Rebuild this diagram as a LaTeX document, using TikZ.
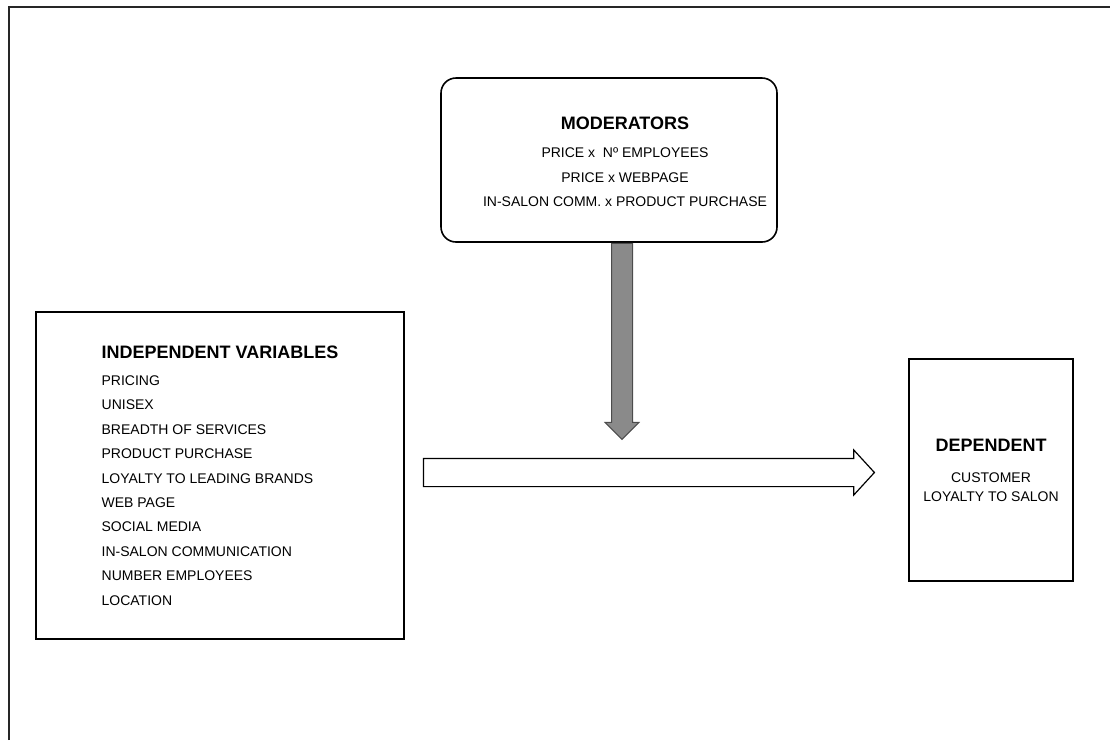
\documentclass[tikz,border=0pt]{standalone}
\usepackage{fontspec}
\setmainfont{Liberation Sans}
\usetikzlibrary{shapes.arrows,positioning}

\begin{document}
\begin{tikzpicture}[x=1pt, y=-1pt,
    varbox/.style={rectangle, draw, line width=1.6pt, inner sep=0pt},
    modbox/.style={rectangle, draw, line width=1.6pt, rounded corners=15pt, minimum width=336pt, minimum height=164pt},
    blockarrow/.style={single arrow, draw, minimum width=0pt, anchor=tail},
]
    \useasboundingbox (0,0) rectangle (1110,740);
    \draw[line width=1.5pt, black!85] (9,740) -- (9,7) -- (1110,7);

    \node[modbox] (mod) at (609,160) {};
    \node[align=center, font=\fontsize{14}{24.5}\selectfont] (modtext) at ([xshift=16pt,yshift=-2pt]mod.center) {{\fontsize{18}{24}\selectfont\bfseries MODERATORS}\\[3.5pt] PRICE x\ \ Nº EMPLOYEES\\ PRICE x WEBPAGE\\ IN-SALON COMM. x PRODUCT PURCHASE};

    \node[varbox, align=left, minimum width=368pt, minimum height=327pt, font=\fontsize{14}{24.4}\selectfont] (indep) at (220,475.5) {{\fontsize{18}{24}\selectfont\bfseries INDEPENDENT VARIABLES}\\[2.6pt] PRICING\\ UNISEX\\ BREADTH OF SERVICES\\ PRODUCT PURCHASE\\ LOYALTY TO LEADING BRANDS\\ WEB PAGE\\ SOCIAL MEDIA\\ IN-SALON COMMUNICATION\\ NUMBER EMPLOYEES\\ LOCATION};

    \node[varbox, align=center, minimum width=164pt, minimum height=222pt, font=\fontsize{14}{19}\selectfont] (dep) at (991,470) {{\fontsize{18}{24}\selectfont\bfseries DEPENDENT}\\[12pt] CUSTOMER\\ LOYALTY TO SALON};

    \node[blockarrow, fill=black!46, draw=black!70, line width=1pt, inner sep=10pt, single arrow head extend=6.5pt, minimum height=196pt, rotate=-90] (modarrow) at ([xshift=13pt]mod.south) {};
    \node[blockarrow, fill=white, line width=1.2pt, inner sep=13.5pt, single arrow head extend=8.5pt, single arrow tip angle=95, minimum height=451pt] (mainarrow) at ([xshift=18pt,yshift=3pt]indep.east) {};
\end{tikzpicture}
\end{document}
